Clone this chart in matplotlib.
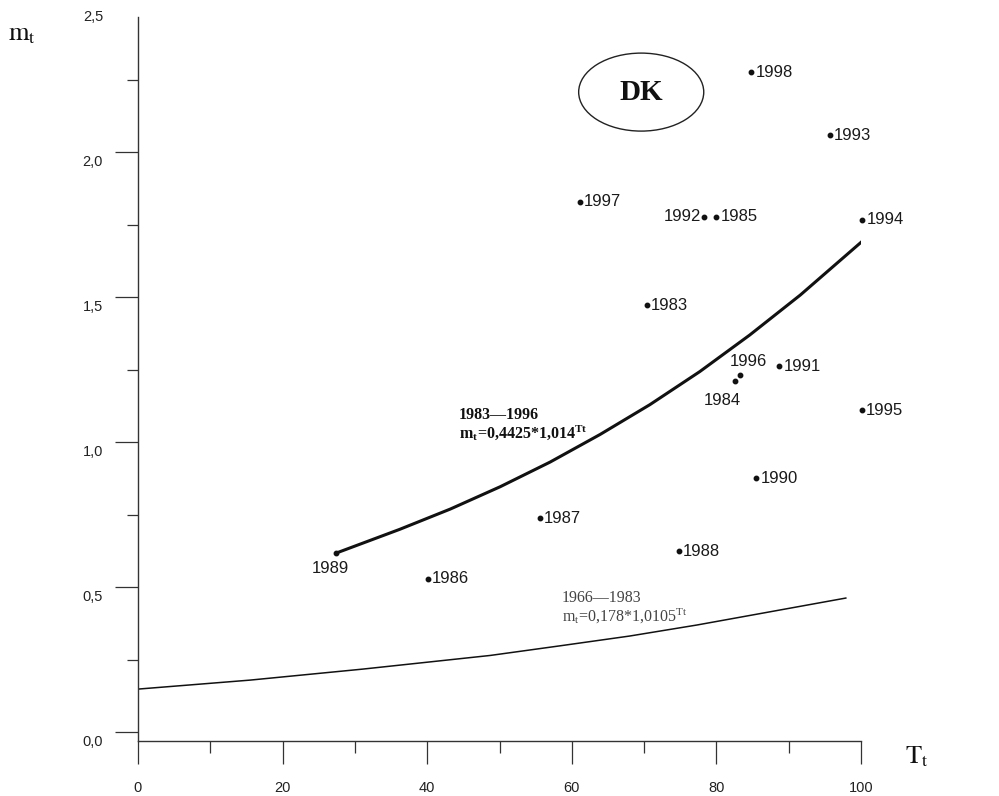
import matplotlib
matplotlib.use('Agg')
import matplotlib.pyplot as plt
from matplotlib.patches import Ellipse
from matplotlib.transforms import offset_copy

plt.rcParams['mathtext.fontset'] = 'stix'

# scatter points (T_t, m_t) by year
years = ['1983', '1984', '1985', '1986', '1987', '1988', '1989', '1990',
         '1991', '1992', '1993', '1994', '1995', '1996', '1997', '1998']
T = [70.4, 82.6, 80.0, 40.1, 55.6, 74.8, 27.4, 85.5,
     88.7, 78.3, 95.7, 100.2, 100.1, 83.3, 61.1, 84.8]
m = [1.472, 1.210, 1.777, 0.528, 0.738, 0.624, 0.617, 0.876,
     1.262, 1.777, 2.059, 1.766, 1.110, 1.233, 1.829, 2.276]

# trend curves
T_8396 = [27.4, 36.2, 43.2, 50.1, 57.0, 63.9, 70.8, 77.7, 84.6, 91.6, 100.1]
m_8396 = [0.617, 0.699, 0.769, 0.846, 0.931, 1.026, 1.129, 1.243, 1.369, 1.507, 1.691]
T_6683 = [0, 15.5, 31.1, 48.7, 58.3, 68.0, 77.3, 86.4, 97.9]
m_6683 = [0.148, 0.179, 0.217, 0.264, 0.297, 0.331, 0.369, 0.410, 0.462]

xticks = [0, 20, 40, 60, 80, 100]
yticks = [0.0, 0.5, 1.0, 1.5, 2.0]
ylabels = ['0,0', '0,5', '1,0', '1,5', '2,0', '2,5']

W, H = 999, 796
fig = plt.figure(figsize=(W / 100, H / 100), dpi=100)
ax = fig.add_axes([138 / W, 1 - 741 / H, (861 - 138) / W, (741 - 17) / H])
ax.set_xlim(0, 100)
ax.set_ylim(-0.031, 2.466)

axc = '#333333'
for s in ['top', 'right']:
    ax.spines[s].set_visible(False)
for s in ['left', 'bottom']:
    ax.spines[s].set_color(axc)
    ax.spines[s].set_linewidth(1.0)

ax.set_xticks(xticks)
ax.set_xticks([10, 30, 50, 70, 90], minor=True)
ax.set_xticklabels([str(v) for v in xticks], fontfamily='Liberation Sans',
                   fontsize=10.5, color='#222222')
ax.set_yticks(yticks)
ax.set_yticks([0.25, 0.75, 1.25, 1.75, 2.25], minor=True)
ax.set_yticklabels([])
ax.tick_params(axis='x', which='major', direction='out', length=16.5, width=0.9,
               color=axc, pad=12)
ax.tick_params(axis='x', which='minor', direction='out', length=8.5, width=0.9,
               color=axc)
ax.tick_params(axis='y', which='major', direction='out', length=16.5, width=0.9,
               color=axc)
ax.tick_params(axis='y', which='minor', direction='out', length=8, width=0.9,
               color=axc)

# y labels sit a little below their ticks
ytr = offset_copy(ax.get_yaxis_transform(), fig=fig, x=-35, y=-10, units='dots')
for v, lab in zip(yticks + [2.5], ylabels):
    ax.text(0, v, lab, transform=ytr, ha='right', va='center',
            fontfamily='Liberation Sans', fontsize=10.5, color='#222222',
            clip_on=False)

# curves
ax.plot(T_8396, m_8396, color='#111111', lw=2.2, solid_capstyle='round',
        solid_joinstyle='round')
ax.plot(T_6683, m_6683, color='#111111', lw=1.1, solid_joinstyle='round')

# points and year labels
ax.plot(T, m, 'o', ms=3.2, color='#111111', clip_on=False)
special = {'1992': ((-2, 0), 'right'), '1996': ((5.8, 9.4), 'center'),
           '1984': ((-9.4, -13.7), 'center'), '1989': ((-4.3, -10.8), 'center')}
for yr, x, y in zip(years, T, m):
    off, ha = special.get(yr, ((3, 0), 'left'))
    ax.annotate(yr, (x, y), xytext=off, textcoords='offset points', ha=ha,
                va='center', fontfamily='Liberation Sans', fontsize=12,
                color='#1a1a1a', annotation_clip=False)

# equation notes
ax.text(44.4, 1.093, '1983—1996', fontfamily='Liberation Serif',
        fontweight='bold', fontsize=11.5, va='center', color='#111111')
ax.text(44.4, 1.031, r'm$_\mathregular{t}$=0,4425*1,014$^\mathregular{Tt}$',
        fontfamily='Liberation Serif', fontweight='bold', fontsize=11.5,
        va='center', color='#111111')
ax.text(58.6, 0.462, '1966—1983', fontfamily='Liberation Serif',
        fontsize=11.5, va='center', color='#444444')
ax.text(58.6, 0.397, r'm$_\mathregular{t}$=0,178*1,0105$^\mathregular{Tt}$',
        fontfamily='Liberation Serif', fontsize=11.5, va='center', color='#444444')

# country badge
ax.add_patch(Ellipse((69.6, 2.207), 17.3, 0.269, fill=False, ec='#222222', lw=1.0))
ax.text(69.6, 2.207, 'DK', fontfamily='Liberation Serif', fontweight='bold',
        fontsize=21, ha='center', va='center', color='#111111')

# axis titles
fig.text(8 / W, 1 - 40 / H, r'$\mathrm{m_t}$', fontsize=19, va='baseline',
         color='#111111')
fig.text(905 / W, 1 - 763 / H, r'$\mathrm{T_t}$', fontsize=19, va='baseline',
         color='#111111')

fig.savefig('out.png', dpi=100)
